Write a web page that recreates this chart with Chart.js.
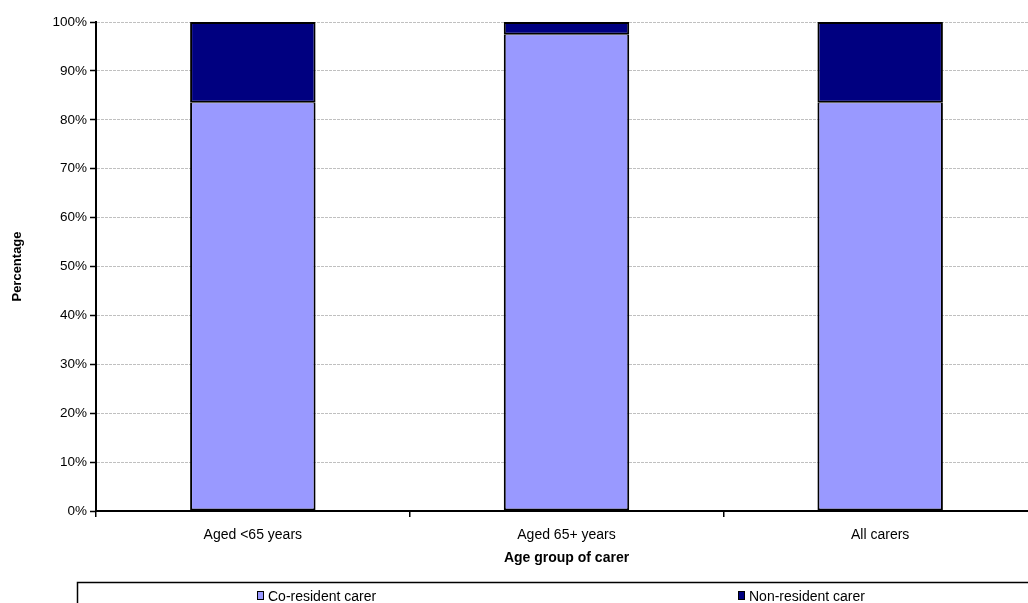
<!DOCTYPE html>
<html lang="en">
<head>
<meta charset="UTF-8">
<title>Carers by age group</title>
<script src="https://cdn.jsdelivr.net/npm/chart.js"></script>
<style>
  html, body { margin: 0; padding: 0; background: #fff; overflow: hidden; }
  #wrap { width: 1037px; height: 603px; }
</style>
</head>
<body>
<div id="wrap"><canvas id="chart"></canvas></div>
<script>
const categories = ['Aged <65 years', 'Aged 65+ years', 'All carers']
const coResident = [83.6, 97.5, 83.6]
const nonResident = [16.4, 2.5, 16.4]
const seriesNames = ['Co-resident carer', 'Non-resident carer']
const seriesColors = ['#9999FF', '#000080']

const FONT = 'Arial, "Liberation Sans", sans-serif'

// legend drawn as a framed strip under the axis, items spread out
const boxLegend = {
  id: 'boxLegend',
  afterDraw(chart) {
    const ctx = chart.ctx
    ctx.save()
    ctx.strokeStyle = '#000'
    ctx.lineWidth = 1.5
    ctx.strokeRect(77.5, 582.5, 1100, 100)
    const xs = [257, 738]
    ctx.font = '14px ' + FONT
    ctx.textBaseline = 'middle'
    ctx.lineWidth = 1
    chart.data.datasets.forEach((ds, i) => {
      ctx.fillStyle = ds.backgroundColor
      ctx.fillRect(xs[i], 591, 6, 8)
      ctx.strokeStyle = '#000'
      ctx.strokeRect(xs[i] + 0.5, 591.5, 6, 8)
      ctx.fillStyle = '#000'
      ctx.fillText(ds.label, xs[i] + 11, 597)
    })
    ctx.restore()
  }
}

new Chart(document.getElementById('chart'), {
  type: 'bar',
  data: {
    labels: categories,
    datasets: [
      { label: seriesNames[0], data: coResident, backgroundColor: seriesColors[0], borderColor: '#000', borderWidth: { top: 1, left: 2, right: 2, bottom: 2 }, borderSkipped: false },
      { label: seriesNames[1], data: nonResident, backgroundColor: seriesColors[1], borderColor: '#000', borderWidth: { top: 2, left: 2, right: 2, bottom: 1.5 }, borderSkipped: false }
    ]
  },
  options: {
    responsive: true,
    maintainAspectRatio: false,
    animation: false,
    layout: { padding: { top: 22, left: 0, right: 0, bottom: 30 } },
    datasets: { bar: { barPercentage: 0.4, categoryPercentage: 1 } },
    plugins: {
      legend: { display: false },
      tooltip: { enabled: false }
    },
    scales: {
      x: {
        stacked: true,
        afterFit: (s) => { s.height = 62 },
        grid: { offset: true, drawOnChartArea: false, color: '#000', lineWidth: 1.5, tickLength: 6 },
        border: { color: '#000', width: 2 },
        ticks: { color: '#000', font: { family: FONT, size: 14 }, padding: 10 },
        title: { display: true, text: 'Age group of carer', color: '#000', font: { family: FONT, size: 14, weight: 'bold' }, padding: { top: 4, bottom: 6 } }
      },
      y: {
        stacked: true,
        min: 0,
        max: 100,
        afterFit: (s) => { s.width = 96 },
        grid: { color: '#c0c0c0', tickColor: '#000', tickLength: 6, tickWidth: 1.5 },
        border: { color: '#000', width: 2, dash: [3, 1] },
        ticks: { stepSize: 10, color: '#000', font: { family: FONT, size: 13.5 }, padding: 3, callback: (v) => v + '%' },
        title: { display: true, text: 'Percentage', color: '#000', font: { family: FONT, size: 13, weight: 'bold' }, padding: { top: 10, bottom: 0 } }
      }
    }
  },
  plugins: [boxLegend]
})
</script>
</body>
</html>
